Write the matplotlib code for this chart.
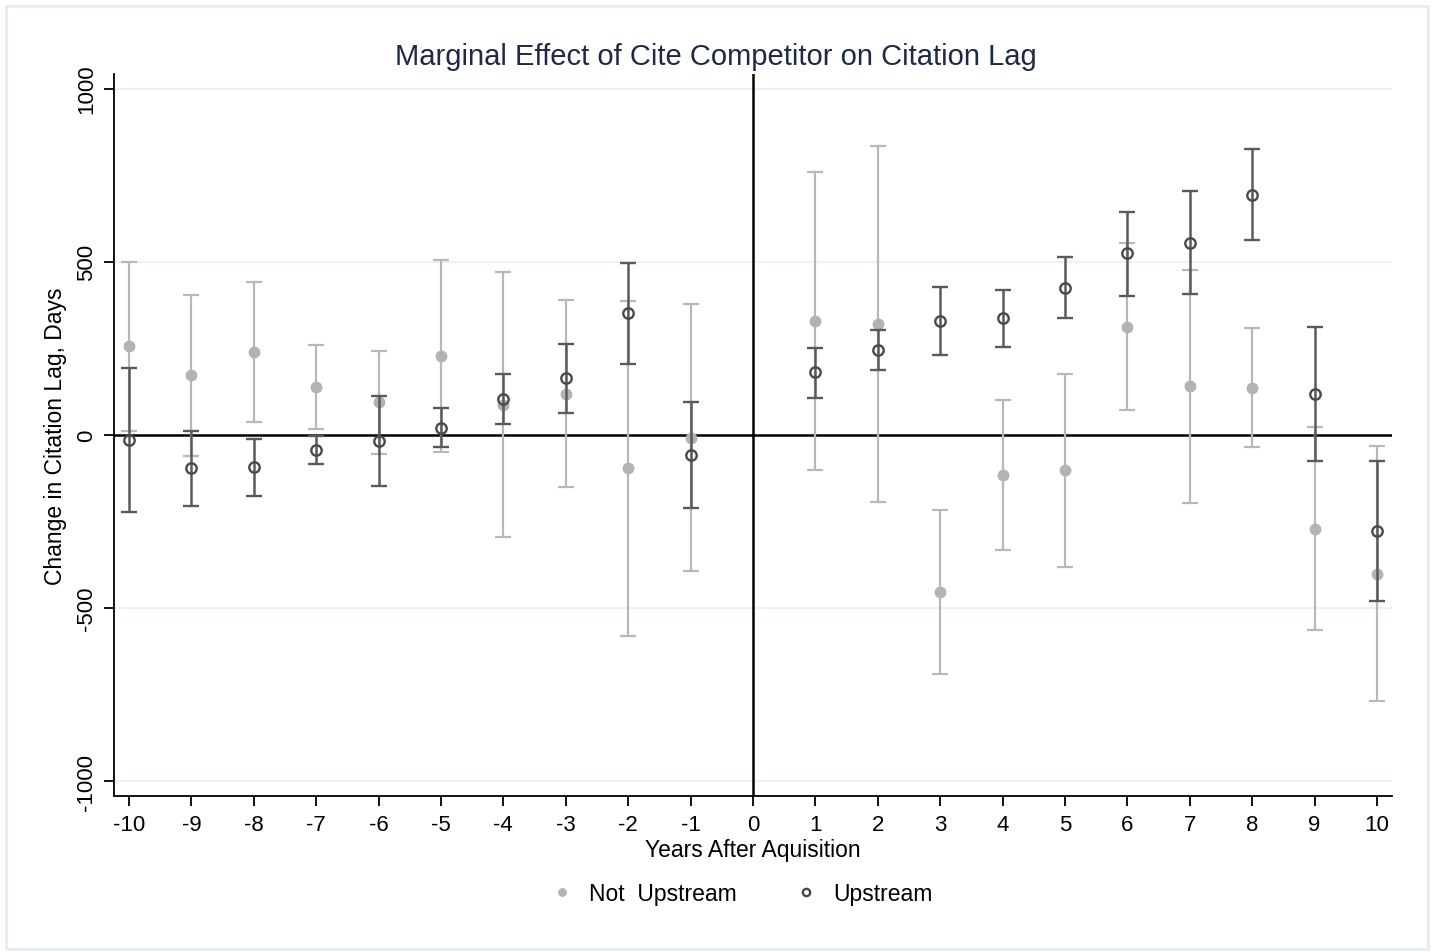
import matplotlib.pyplot as plt
from matplotlib.patches import Rectangle

plt.rcParams['font.family'] = ['Liberation Sans', 'DejaVu Sans']
plt.rcParams['axes.unicode_minus'] = False

years = [-10, -9, -8, -7, -6, -5, -4, -3, -2, -1, 1, 2, 3, 4, 5, 6, 7, 8, 9, 10]

# Not Upstream: estimate, upper and lower bound of the interval
not_up = [256, 172, 239, 138, 94, 228, 88, 118, -96, -8,
          330, 320, -454, -116, -102, 313, 141, 136, -270, -400]
not_up_hi = [498, 405, 441, 259, 242, 506, 470, 389, 388, 378,
             759, 835, -216, 102, 176, 553, 475, 309, 22, -32]
not_up_lo = [11, -61, 38, 18, -55, -50, -295, -151, -581, -392,
             -101, -194, -689, -333, -381, 71, -196, -35, -562, -767]

# Upstream
up = [-14, -96, -93, -42, -18, 21, 104, 164, 351, -58,
      181, 246, 329, 338, 425, 524, 555, 693, 118, -276]
up_hi = [193, 11, -12, -2, 112, 77, 176, 262, 496, 95,
         252, 302, 428, 419, 513, 645, 704, 825, 311, -74]
up_lo = [-223, -204, -175, -83, -147, -36, 33, 64, 205, -211,
         108, 189, 231, 255, 338, 400, 406, 562, -76, -478]

fig = plt.figure(figsize=(14.35, 9.53), dpi=100)
ax = fig.add_axes([0.0794, 0.1637, 0.8906, 0.7576])

# light frame round the whole graph
fig.patches.append(Rectangle((0.004, 0.003), 0.991, 0.99, transform=fig.transFigure,
                             fill=False, edgecolor='#e6eef0', linewidth=2))

for yv in [-1000, -500, 500, 1000]:
    ax.axhline(yv, color='#eaf2f3', linewidth=1.5, zorder=0)
ax.axhline(0, color='black', linewidth=1.8, zorder=1)
ax.axvline(0, color='black', linewidth=1.8, zorder=1)

err_gray = [[a - b for a, b in zip(not_up, not_up_lo)], [b - a for a, b in zip(not_up, not_up_hi)]]
ax.errorbar(years, not_up, yerr=err_gray, fmt='o', color='#b3b3b3', ecolor='#b8b8b8',
            markersize=7.5, elinewidth=1.6, capsize=5.5, capthick=1.6, zorder=2,
            label='Not  Upstream')

err_dark = [[a - b for a, b in zip(up, up_lo)], [b - a for a, b in zip(up, up_hi)]]
ax.errorbar(years, up, yerr=err_dark, fmt='o', markerfacecolor='none', markeredgecolor='#4a4a4a',
            markeredgewidth=1.7, ecolor='#5a5a5a', markersize=7.5, elinewidth=1.8,
            capsize=6, capthick=1.8, zorder=3, label='Upstream')

ax.set_xlim(-10.24, 10.24)
ax.set_ylim(-1042, 1042)
ax.set_xticks(range(-10, 11))
ax.set_yticks([-1000, -500, 0, 500, 1000])
ax.set_yticklabels(['-1000', '-500', '0', '500', '1000'], rotation=90, va='center')
ax.tick_params(axis='both', direction='out', length=7, width=1.3, labelsize=16, colors='black')
ax.tick_params(axis='y', pad=5)
ax.tick_params(axis='x', pad=6)

for s in ['top', 'right']:
    ax.spines[s].set_visible(False)
for s in ['left', 'bottom']:
    ax.spines[s].set_linewidth(1.3)

ax.set_xlabel('Years After Aquisition', fontsize=16.5, labelpad=2)
ax.set_ylabel('Change in Citation Lag, Days', fontsize=16.5, labelpad=7)
fig.suptitle('Marginal Effect of Cite Competitor on Citation Lag', fontsize=21,
             color='#1c2a48', x=0.499, y=0.940, va='center')

handles, labels = ax.get_legend_handles_labels()
handles = [h[0] for h in handles]
fig.legend(handles, labels, loc='center', bbox_to_anchor=(0.516, 0.061), ncol=2,
           frameon=False, fontsize=16.5, markerscale=0.7, handletextpad=0.6,
           columnspacing=2.4, handlelength=1.2)

fig.savefig('out.png', dpi=100)
